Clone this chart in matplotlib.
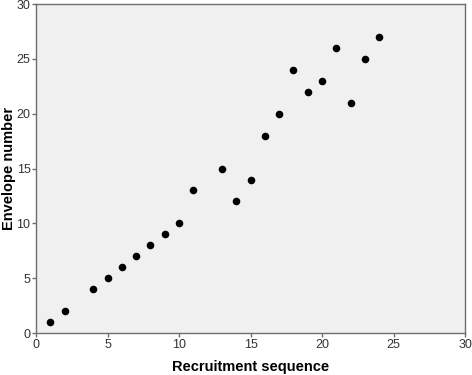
import matplotlib
matplotlib.use("Agg")
import matplotlib.pyplot as plt

# recruitment order vs envelope number
recruit_seq = [1, 2, 4, 5, 6, 7, 8, 9, 10, 11, 13, 14, 15, 16, 17, 18, 19, 20, 21, 22, 23, 24]
envelope_no = [1, 2, 4, 5, 6, 7, 8, 9, 10, 13, 15, 12, 14, 18, 20, 24, 22, 23, 26, 21, 25, 27]
ticks = [0, 5, 10, 15, 20, 25, 30]

plt.rcParams['font.family'] = ['Liberation Sans', 'DejaVu Sans']

fig = plt.figure(figsize=(4.72, 3.75), dpi=100)
ax = fig.add_axes([0.0763, 0.112, 0.909, 0.877])
ax.set_facecolor('#f0f0f0')

ax.scatter(recruit_seq, envelope_no, s=30, c='black', zorder=3, linewidths=0)

ax.set_xlim(0, 30)
ax.set_ylim(0, 30)
ax.set_xticks(ticks)
ax.set_yticks(ticks)
for sp in ax.spines.values():
	sp.set_color('#6e6e6e')
	sp.set_linewidth(1.0)
ax.tick_params(axis='both', direction='out', length=3, width=1, color='#6e6e6e',
	labelsize=9, labelcolor='#333333', pad=1)
ax.set_xlabel('Recruitment sequence', fontsize=10.5, fontweight='bold')
ax.set_ylabel('Envelope number', fontsize=10.5, fontweight='bold')
ax.xaxis.set_label_coords(0.5, -0.082)
ax.yaxis.set_label_coords(-0.046, 0.5)

fig.savefig('out.png', dpi=100)
